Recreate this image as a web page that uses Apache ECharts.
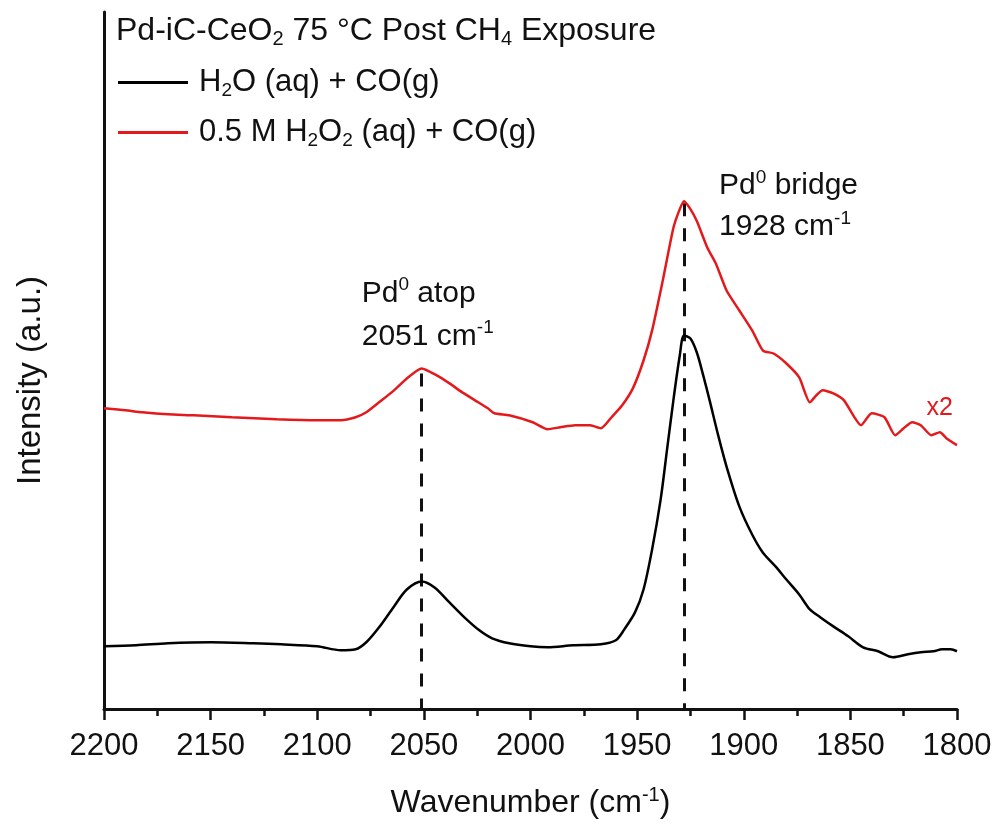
<!DOCTYPE html>
<html>
<head>
<meta charset="utf-8">
<script src="https://cdn.jsdelivr.net/npm/echarts@6/dist/echarts.min.js"></script>
<style>
  html, body { margin: 0; padding: 0; background: #fff; }
  #chart { width: 998px; height: 825px; }
</style>
</head>
<body>
<div id="chart"></div>
<script>
// Wavenumber axis ticks (cm^-1)
const xTicks = [2200, 2150, 2100, 2050, 2000, 1950, 1900, 1850, 1800];

// H2O (aq) + CO(g) spectrum: wavenumber / intensity (a.u., offset)
const waveH2O = [2200, 2185, 2170, 2150, 2130, 2117, 2100, 2089, 2082, 2077, 2071, 2064, 2058, 2051, 2045, 2038, 2031, 2024, 2018, 2010, 2000, 1992, 1980, 1967, 1960, 1956, 1951, 1947, 1943, 1939, 1936, 1933, 1930, 1928, 1925, 1922, 1919, 1916, 1912, 1908, 1902, 1896, 1891, 1885, 1880, 1874, 1869, 1864, 1858, 1851, 1844, 1837, 1830, 1823, 1817, 1811, 1807, 1803, 1800];
const intH2O  = [0.63, 0.64, 0.66, 0.67, 0.66, 0.65, 0.63, 0.59, 0.60, 0.67, 0.82, 1.03, 1.20, 1.28, 1.22, 1.07, 0.92, 0.79, 0.71, 0.66, 0.63, 0.62, 0.64, 0.65, 0.69, 0.80, 0.97, 1.20, 1.60, 2.10, 2.60, 3.10, 3.55, 3.75, 3.72, 3.58, 3.35, 3.10, 2.75, 2.43, 2.03, 1.75, 1.57, 1.43, 1.30, 1.15, 1.00, 0.92, 0.83, 0.73, 0.62, 0.58, 0.52, 0.55, 0.57, 0.58, 0.60, 0.60, 0.58];

// 0.5 M H2O2 (aq) + CO(g) spectrum (x2)
const waveH2O2 = [2200, 2190, 2182, 2170, 2158, 2140, 2119, 2100, 2089, 2082, 2077, 2071, 2064, 2058, 2051, 2044, 2038, 2032, 2026, 2020, 2017, 2010, 1999, 1992, 1986, 1979, 1972, 1967, 1962, 1957, 1952, 1947, 1943, 1938, 1933, 1930, 1928, 1925, 1922, 1917, 1913, 1908, 1902, 1896, 1891, 1886, 1880, 1874, 1869, 1866, 1863, 1858, 1853, 1845, 1840, 1834, 1829, 1825, 1821, 1817, 1812, 1808, 1805, 1800];
const intH2O2  = [3.02, 3.00, 2.98, 2.96, 2.95, 2.93, 2.91, 2.90, 2.90, 2.93, 2.98, 3.08, 3.20, 3.32, 3.42, 3.35, 3.27, 3.18, 3.10, 3.02, 2.97, 2.95, 2.88, 2.81, 2.83, 2.85, 2.85, 2.82, 2.93, 3.05, 3.22, 3.50, 3.80, 4.30, 4.83, 5.02, 5.10, 5.02, 4.90, 4.63, 4.47, 4.20, 4.00, 3.80, 3.60, 3.57, 3.47, 3.33, 3.08, 3.15, 3.20, 3.17, 3.10, 2.85, 2.97, 2.93, 2.75, 2.82, 2.88, 2.85, 2.75, 2.78, 2.72, 2.65];

// Peak positions marked with dashed guides
const peakAtop = 2051;
const peakBridge = 1928;

const nameH2O = 'H2O (aq) + CO(g)';
const nameH2O2 = '0.5 M H2O2 (aq) + CO(g)';

const pairs = (xs, ys) => xs.map((x, i) => [x, ys[i]]);
const valueAt = (xs, ys, x) => ys[xs.indexOf(x)];

const FONT = "Arial, 'Liberation Sans', sans-serif";
const INK = '#111';
const RED = '#e3191c';

function richSet(size) {
  const small = Math.round(size * 0.62);
  return {
    t: { fontSize: size, lineHeight: 36, fontFamily: FONT, color: INK, verticalAlign: 'middle' },
    sub: { fontSize: small, lineHeight: 18, fontFamily: FONT, color: INK, verticalAlign: 'bottom' },
    sup: { fontSize: small, lineHeight: 20, fontFamily: FONT, color: INK, verticalAlign: 'top' }
  };
}

const chart = echarts.init(document.getElementById('chart'), null, { renderer: 'canvas' });

const legendText = {
  [nameH2O]: '{t|H}{sub|2}{t|O (aq) + CO(g)}',
  [nameH2O2]: '{t|0.5 M H}{sub|2}{t|O}{sub|2}{t| (aq) + CO(g)}'
};

function legendFor(name, top) {
  return {
    data: [name],
    left: 113,
    top: top,
    icon: 'rect',
    itemWidth: 70,
    itemHeight: 3,
    selectedMode: false,
    formatter: n => legendText[n],
    textStyle: { padding: [0, 0, 0, 6], rich: richSet(31) }
  };
}

function dashedGuide(x, top) {
  return [{ coord: [x, top] }, { coord: [x, 0] }];
}

chart.setOption({
  animation: false,
  backgroundColor: '#fff',
  grid: { left: 104, right: 41, top: 12, bottom: 116, containLabel: false },
  legend: [legendFor(nameH2O, 62), legendFor(nameH2O2, 112)],
  xAxis: {
    type: 'value',
    inverse: true,
    min: xTicks[xTicks.length - 1],
    max: xTicks[0],
    interval: 50,
    name: '{t|Wavenumber (cm}{sup|-1}{t|)}',
    nameLocation: 'middle',
    nameGap: 76,
    nameTextStyle: { rich: richSet(32) },
    axisLine: { show: true, onZero: false, lineStyle: { color: INK, width: 3 } },
    axisTick: { show: true, inside: false, length: 11, lineStyle: { color: INK, width: 2.5 } },
    minorTick: { show: true, splitNumber: 2, length: 7, lineStyle: { color: INK, width: 2.5 } },
    axisLabel: { fontSize: 31, fontFamily: FONT, color: INK, margin: 22, formatter: v => String(v) },
    splitLine: { show: false },
    minorSplitLine: { show: false }
  },
  yAxis: {
    type: 'value',
    min: 0,
    max: 7,
    name: 'Intensity (a.u.)',
    nameLocation: 'middle',
    nameRotate: 90,
    nameGap: 57,
    nameTextStyle: { fontSize: 33, fontFamily: FONT, color: INK, padding: [0, 40, 0, 0] },
    axisLine: { show: true, lineStyle: { color: INK, width: 3 } },
    axisTick: { show: false },
    axisLabel: { show: false },
    splitLine: { show: false }
  },
  series: [
    {
      name: nameH2O,
      type: 'line',
      data: pairs(waveH2O, intH2O),
      showSymbol: false,
      smooth: 0.3,
      color: '#000',
      lineStyle: { color: '#000', width: 2.5 },
      z: 3
    },
    {
      name: nameH2O2,
      type: 'line',
      data: pairs(waveH2O2, intH2O2),
      showSymbol: false,
      smooth: 0.2,
      color: RED,
      lineStyle: { color: RED, width: 2.5 },
      z: 3,
      markLine: {
        silent: true,
        symbol: 'none',
        label: { show: false },
        lineStyle: { color: INK, width: 3, type: [13, 12] },
        data: [
          dashedGuide(peakAtop, valueAt(waveH2O2, intH2O2, peakAtop) - 0.05),
          dashedGuide(peakBridge, valueAt(waveH2O2, intH2O2, peakBridge) - 0.02)
        ],
        z: 2
      }
    }
  ]
});

// Text annotations anchored to the peak positions
function annotate() {
  const toPx = pt => chart.convertToPixel({ gridIndex: 0 }, pt);
  const atop = toPx([peakAtop, valueAt(waveH2O2, intH2O2, peakAtop)]);
  const bridge = toPx([peakBridge, valueAt(waveH2O2, intH2O2, peakBridge)]);
  const redTail = toPx([1812, 2.88]);
  const textEl = (x, y, text, size) => ({
    type: 'text',
    left: x,
    top: y,
    silent: true,
    style: { text: text, rich: richSet(size), fill: INK }
  });
  chart.setOption({
    graphic: [
      textEl(116, 15, '{t|Pd-iC-CeO}{sub|2}{t| 75 °C Post CH}{sub|4}{t| Exposure}', 32),
      textEl(atop[0] - 60, atop[1] - 93, '{t|Pd}{sup|0}{t| atop}', 30),
      textEl(atop[0] - 60, atop[1] - 50, '{t|2051 cm}{sup|-1}', 30),
      textEl(bridge[0] + 35, bridge[1] - 33, '{t|Pd}{sup|0}{t| bridge}', 30),
      textEl(bridge[0] + 35, bridge[1] + 8, '{t|1928 cm}{sup|-1}', 30),
      {
        type: 'text',
        left: redTail[0] - 5,
        top: redTail[1] - 27,
        silent: true,
        style: { text: 'x2', font: '25px ' + FONT, fill: RED }
      }
    ]
  });
}
annotate();
</script>
</body>
</html>
